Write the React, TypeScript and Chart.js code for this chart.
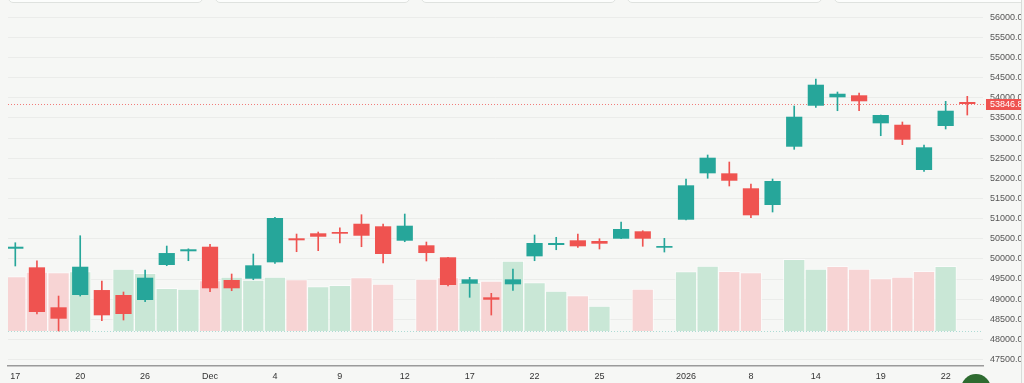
import React, { useEffect, useRef } from 'react';
import { Chart, registerables } from 'chart.js';

Chart.register(...registerables);

// ---- data ----
const tickLabels = [
  '17', '', '', '20', '', '', '26', '', '', 'Dec', '', '', '4', '', '', '9', '', '', '12', '', '', '17', '', '',
  '22', '', '', '25', '', '', '', '2026', '', '', '8', '', '', '14', '', '', '19', '', '', '22', '',
];

const priceTicks = [
  47500, 48000, 48500, 49000, 49500, 50000, 50500, 51000, 51500, 52000, 52500, 53000, 53500, 54000, 54500,
  55000, 55500, 56000,
];

const opens = [
  50252, 49790, 48797, 49102, 49226, 49102, 48978, 49847, 50188, 50302, 49475, 49507, 49914, 50511, 50635,
  50667, 50873, 50809, 50451, 50337, 50039, 49383, 49045, 49368, 50063, 50344, 50461, 50444, 50501, 50685,
  50277, 50973, 52125, 52125, 51753, 51338, 52786, 53804, 54013, 54063, 53367, 53332, 52207, 53300, 53896,
];
const highs = [
  50401, 49954, 49077, 50575, 49450, 49177, 49723, 50319, 50250, 50362, 49624, 50121, 51030, 50617, 50667,
  50774, 51097, 50866, 51114, 50419, 50039, 49542, 49144, 49748, 50593, 50536, 50617, 50501, 50916, 50699,
  50511, 51984, 52580, 52406, 51859, 51984, 53797, 54468, 54145, 54120, 53573, 53400, 52828, 53914, 54038,
];
const lows = [
  49823, 48630, 48208, 49077, 48464, 48481, 48936, 49830, 49954, 49184, 49209, 49482, 49890, 50178, 50203,
  50394, 50302, 49897, 50426, 49947, 49326, 49045, 48605, 49219, 49954, 50227, 50287, 50245, 50501, 50312,
  50170, 50965, 52001, 51810, 51022, 51164, 52721, 53765, 53680, 53680, 53059, 52836, 52175, 53226, 53573,
];
const closes = [
  50302, 48680, 48514, 49805, 48598, 48630, 49532, 50145, 50238, 49269, 49269, 49840, 51015, 50461, 50550,
  50625, 50575, 50121, 50824, 50145, 49351, 49492, 48985, 49492, 50394, 50394, 50312, 50377, 50742, 50501,
  50319, 51827, 52513, 51941, 51082, 51934, 53531, 54326, 54102, 53914, 53573, 52960, 52771, 53680, 53846.82,
];
const volumes = [
  543000, 590000, 583000, 593000, 0, 620000, 577000, 427000, 420000, 503000, 540000, 510000, 540000, 513000, 443000,
  457000, 533000, 470000, 0, 520000, 533000, 487000, 500000, 700000, 483000, 400000, 353000, 250000, 0, 420000,
  0, 593000, 650000, 597000, 583000, 0, 717000, 620000, 647000, 620000, 523000, 540000, 597000, 647000, 0,
];
const volumeDirs = [
  'D', 'D', 'D', 'U', 'D', 'U', 'U', 'U', 'U', 'D', 'U', 'U', 'U', 'D', 'U',
  'U', 'D', 'D', 'U', 'D', 'D', 'U', 'D', 'U', 'U', 'U', 'D', 'U', 'U', 'D',
  'D', 'U', 'U', 'D', 'D', 'U', 'U', 'U', 'D', 'D', 'D', 'D', 'D', 'U', 'U',
];
const lastPrice = 53846.82;

// ---- styles ----
const GREEN = '#26a69a';
const RED = '#ef5350';
const VOL_GREEN = '#c9e7d6';
const VOL_RED = '#f7d4d4';
const BG = '#f6f7f5';
const FONT = '"Liberation Sans", Arial, sans-serif';

const overlayPlugin = {
  id: 'overlayPlugin',
  beforeDatasetsDraw(chart: any) {
    const { ctx, chartArea } = chart;
    const yv = chart.scales.yv;
    const y0 = Math.round(yv.getPixelForValue(0)) + 0.5;
    ctx.save();
    ctx.strokeStyle = 'rgba(38,166,154,0.35)';
    ctx.lineWidth = 1;
    ctx.setLineDash([1, 2]);
    ctx.beginPath();
    ctx.moveTo(chartArea.left, y0);
    ctx.lineTo(chartArea.right, y0);
    ctx.stroke();

    const yp = Math.round(chart.scales.y.getPixelForValue(lastPrice)) + 0.5;
    ctx.strokeStyle = 'rgba(239,83,80,0.75)';
    ctx.setLineDash([1, 2]);
    ctx.beginPath();
    ctx.moveTo(chartArea.left, yp);
    ctx.lineTo(chartArea.right + 3, yp);
    ctx.stroke();
    ctx.restore();
  },
  afterDraw(chart: any) {
    const { ctx, chartArea } = chart;
    const yp = chart.scales.y.getPixelForValue(lastPrice);
    ctx.save();
    ctx.fillStyle = RED;
    ctx.fillRect(chartArea.right + 3, Math.round(yp) - 5, 60, 11);
    ctx.fillStyle = '#ffffff';
    ctx.font = `9px ${FONT}`;
    ctx.textBaseline = 'middle';
    ctx.textAlign = 'left';
    ctx.fillText(lastPrice.toFixed(2), chartArea.right + 7, Math.round(yp) + 0.5);
    ctx.restore();
  },
};

export default function App() {
  const ref = useRef<HTMLCanvasElement>(null);

  useEffect(() => {
    if (!ref.current) return;
    const idx = opens.map((_, i) => i);
    const isUp = (i: number) => closes[i] >= opens[i];
    const chart = new Chart(ref.current, {
      type: 'bar',
      data: {
        datasets: [
          {
            label: 'body',
            data: idx.map((i) => ({ x: i, y: [opens[i], closes[i]] })) as any,
            backgroundColor: (c: any) => (isUp(c.dataIndex) ? GREEN : RED),
            borderWidth: 0,
            grouped: false,
            barPercentage: 0.75,
            categoryPercentage: 1,
            minBarLength: 1.5,
            xAxisID: 'x',
            yAxisID: 'y',
            order: 0,
          } as any,
          {
            label: 'wick',
            data: idx.map((i) => ({ x: i, y: [lows[i], highs[i]] })) as any,
            backgroundColor: (c: any) => (isUp(c.dataIndex) ? GREEN : RED),
            borderWidth: 0,
            grouped: false,
            barThickness: 1,
            xAxisID: 'x',
            yAxisID: 'y',
            order: 1,
          } as any,
          {
            label: 'volume',
            data: idx.map((i) => ({ x: i, y: volumes[i] })) as any,
            backgroundColor: (c: any) => (volumeDirs[c.dataIndex] === 'U' ? VOL_GREEN : VOL_RED),
            borderColor: 'rgba(255,255,255,0.55)',
            borderWidth: 1,
            grouped: false,
            barPercentage: 1,
            categoryPercentage: 1,
            xAxisID: 'x',
            yAxisID: 'yv',
            order: 2,
          } as any,
        ],
      },
      options: {
        responsive: false,
        animation: false,
        events: [],
        layout: { padding: { left: 8, top: 5, right: 0, bottom: 0 } },
        plugins: { legend: { display: false }, tooltip: { enabled: false } },
        scales: {
          x: {
            type: 'linear',
            offset: false,
            min: -0.3374,
            max: 44.726,
            grid: { display: false, drawTicks: false, offset: false },
            border: { display: true, color: '#9a9a9a', width: 1.5 },
            afterBuildTicks: (s: any) => {
              s.ticks = tickLabels.map((_, i) => ({ value: i }));
            },
            ticks: {
              autoSkip: false,
              maxRotation: 0,
              padding: 5,
              color: '#333333',
              font: { family: FONT, size: 9 },
              callback: (v: any) => tickLabels[v as number] ?? '',
            },
            afterFit: (s: any) => {
              s.height = 17;
              s.paddingLeft = 0;
              s.paddingRight = 0;
            },
          },
          y: {
            type: 'linear',
            position: 'right',
            min: 47339,
            max: 56306,
            grid: { color: 'rgba(0,0,0,0.045)', drawTicks: false },
            border: { display: false },
            afterBuildTicks: (s: any) => {
              s.ticks = priceTicks.map((v) => ({ value: v }));
            },
            ticks: {
              autoSkip: false,
              padding: 7,
              color: '#555555',
              font: { family: FONT, size: 9 },
              callback: (v: any) => Number(v).toFixed(2),
            },
            afterFit: (s: any) => {
              s.width = 41;
              s.paddingTop = 0;
              s.paddingBottom = 0;
            },
          },
          yv: {
            type: 'linear',
            display: false,
            min: -350000,
            max: 3260000,
          },
        },
      } as any,
      plugins: [overlayPlugin],
    });
    return () => chart.destroy();
  }, []);

  const cardLefts = [8, 215, 421, 627, 834];

  return (
    <div
      style={{
        position: 'fixed',
        left: 0,
        top: 0,
        width: 1024,
        height: 383,
        overflow: 'hidden',
        background: BG,
      }}
    >
      <canvas
        ref={ref}
        width={1024}
        height={383}
        style={{ position: 'absolute', left: 0, top: 0, width: 1024, height: 383 }}
      />
      {cardLefts.map((l) => (
        <div
          key={l}
          style={{
            position: 'absolute',
            left: l,
            top: -20,
            width: 195,
            height: 23,
            boxSizing: 'border-box',
            border: '1px solid #dfe2df',
            borderRadius: 5,
            background: '#fcfdfc',
          }}
        />
      ))}
      <div
        style={{
          position: 'absolute',
          left: 1021,
          top: 0,
          width: 3,
          height: 383,
          boxSizing: 'border-box',
          borderLeft: '1px solid #d9dbd9',
          background: BG,
        }}
      />
      <div
        style={{
          position: 'absolute',
          left: 961,
          top: 374,
          width: 30,
          height: 30,
          borderRadius: '50%',
          background: '#2e6b30',
        }}
      />
    </div>
  );
}
